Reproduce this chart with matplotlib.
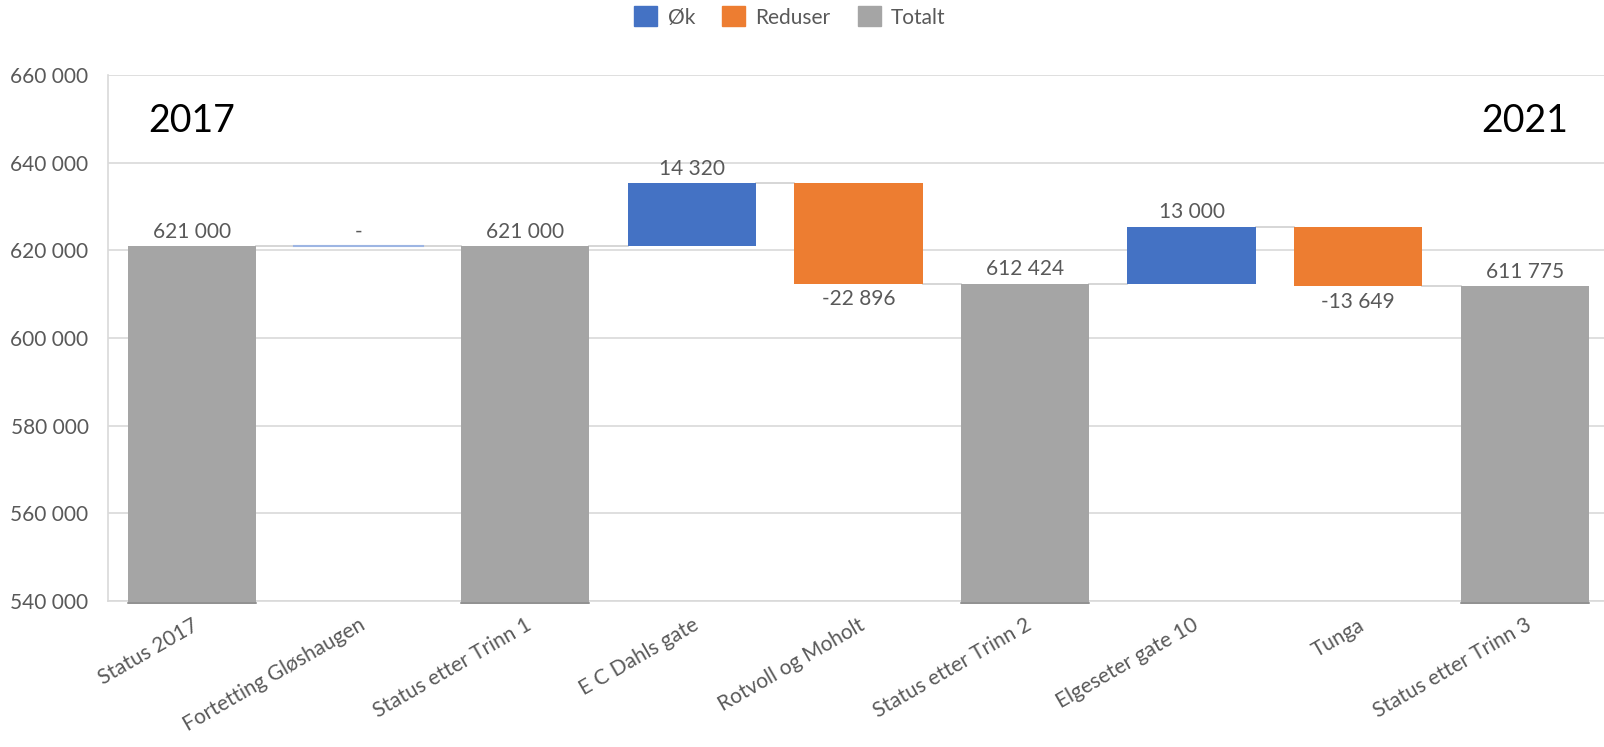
import matplotlib
matplotlib.use("Agg")
import matplotlib.pyplot as plt
from matplotlib.patches import Patch
from matplotlib.ticker import FuncFormatter

categories = ["Status 2017", "Fortetting Gløshaugen", "Status etter Trinn 1",
              "E C Dahls gate", "Rotvoll og Moholt", "Status etter Trinn 2",
              "Elgeseter gate 10", "Tunga", "Status etter Trinn 3"]
values = [621000, 0, 621000, 14320, -22896, 612424, 13000, -13649, 611775]
kinds = ["total", "delta", "total", "delta", "delta", "total", "delta", "delta", "total"]
value_labels = ["621 000", "-", "621 000", "14 320", "-22 896", "612 424", "13 000", "-13 649", "611 775"]
legend_labels = ["Øk", "Reduser", "Totalt"]
yticks = [540000, 560000, 580000, 600000, 620000, 640000, 660000]

BLUE, ORANGE, GRAY = "#4472C4", "#ED7D31", "#A5A5A5"
TXT = "#595959"
FS = 15
plt.rcParams['font.family'] = ['Lato', 'DejaVu Sans']

fig = plt.figure(figsize=(16.04, 7.47), dpi=100)
ax = fig.add_axes([108/1604, 1-601/747, 1-108/1604, (601-75)/747])
ymin, ymax = 540000, 660000
ax.set_ylim(ymin, ymax)
ax.set_xlim(-0.504, 8.475)
w = 0.77

level = 0
levels_after = []
for i, (v, k) in enumerate(zip(values, kinds)):
    if k == "total":
        ax.bar(i, v - 539300, bottom=539300, width=w, color=GRAY, zorder=3, clip_on=False)
        ax.plot([i - w/2, i + w/2], [539500, 539500], color="#8f8f8f", lw=1.2, zorder=4, clip_on=False)
        level = v
        ax.annotate(value_labels[i], (i, v), xytext=(0, 3), textcoords="offset points",
                    ha="center", va="bottom", fontsize=FS, color=TXT)
    else:
        if v > 0:
            ax.bar(i, v, bottom=level, width=w, color=BLUE, zorder=3)
            ax.annotate(value_labels[i], (i, level + v), xytext=(0, 3), textcoords="offset points",
                        ha="center", va="bottom", fontsize=FS, color=TXT)
        elif v < 0:
            ax.bar(i, -v, bottom=level + v, width=w, color=ORANGE, zorder=3)
            ax.annotate(value_labels[i], (i, level + v), xytext=(0, -4), textcoords="offset points",
                        ha="center", va="top", fontsize=FS, color=TXT)
        else:
            ax.plot([i - w/2, i + w/2], [level, level], color="#9DB5E3", lw=1.5, zorder=3)
            ax.annotate(value_labels[i], (i, level), xytext=(0, 3), textcoords="offset points",
                        ha="center", va="bottom", fontsize=FS, color=TXT)
        level = level + v
    levels_after.append(level)

for i in range(len(values) - 1):
    ax.plot([i + w/2, i + 1 - w/2], [levels_after[i], levels_after[i]],
            color="#D0D0D0", lw=1.2, zorder=2)

ax.set_yticks(yticks)
ax.yaxis.set_major_formatter(FuncFormatter(lambda v, p: f"{int(v):,}".replace(",", " ")))
ax.grid(axis="y", color="#D9D9D9", lw=1.2, zorder=0)
ax.set_axisbelow(True)
ax.set_xticks(range(len(categories)))
ax.set_xticklabels(categories, rotation=30, ha="right", rotation_mode="anchor")
ax.tick_params(axis="both", length=0, labelsize=FS, labelcolor=TXT)
ax.tick_params(axis="y", pad=14)
ax.tick_params(axis="x", pad=10)
for s in ["top", "right"]:
    ax.spines[s].set_visible(False)
for s in ["left", "bottom"]:
    ax.spines[s].set_color("#D9D9D9")
    ax.spines[s].set_linewidth(1.2)

ax.text(0, 649500, "2017", ha="center", va="center", fontsize=27, color="black")
ax.text(8, 649500, "2021", ha="center", va="center", fontsize=27, color="black")

handles = [Patch(color=c) for c in (BLUE, ORANGE, GRAY)]
fig.legend(handles, legend_labels, loc="center", bbox_to_anchor=(790/1604, 1-17/747),
           ncol=3, frameon=False, fontsize=FS, labelcolor=TXT,
           handlelength=1.1, handleheight=1.1, handletextpad=0.5, columnspacing=1.3)

fig.savefig("out.png", dpi=100)
